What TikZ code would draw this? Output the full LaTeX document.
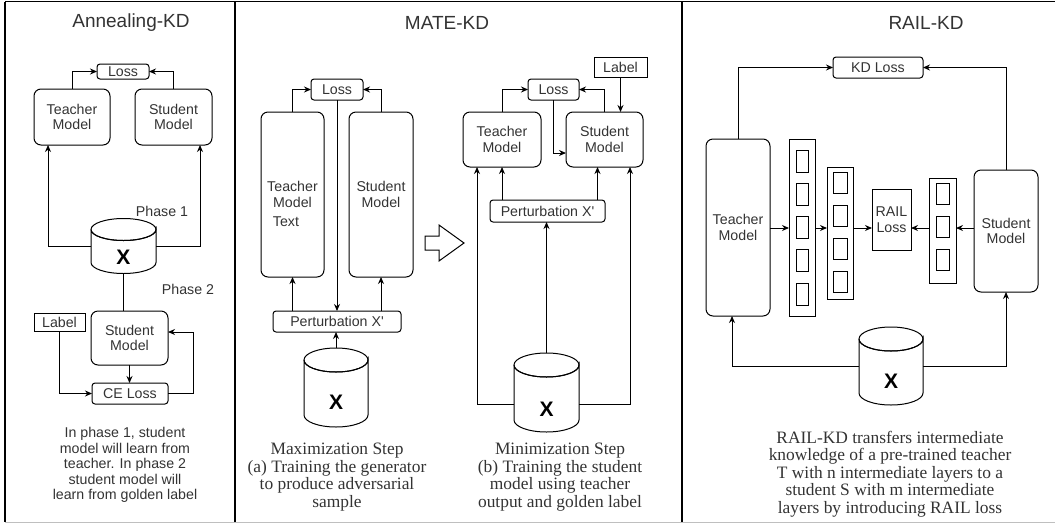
\documentclass[tikz,border=0pt]{standalone}
\usepackage{fontspec}
\setmainfont{Liberation Serif}
\newfontfamily\arial{Liberation Sans}
\usepackage{tikz}
\usetikzlibrary{arrows.meta}
\definecolor{ink}{HTML}{333333}
\tikzset{
	box/.style n args={2}{minimum width=#1,minimum height=#2},
	mdl/.style={draw,rounded corners=7pt,line width=1pt},
	lss/.style={draw,rounded corners=3pt,line width=1pt},
	lbl/.style={draw,line width=1pt},
	dbx/.style={font=\arial\bfseries\fontsize{21}{21}\selectfont,text=black},
	ttl/.style={font=\arial\fontsize{19}{21}\selectfont},
	serif/.style={font=\rmfamily\fontsize{17.4}{17.6}\selectfont},
	arr/.style={-{Stealth[length=7pt,width=6pt]},line width=1pt},
	ln/.style={line width=1pt}
}
\newcommand\dbdraw[3]{%
	\draw[line width=1pt] ([yshift=-#3]#1.north west) -- ([yshift=#3]#1.south west)
		arc[start angle=180,end angle=360,x radius=#2,y radius=#3]
		-- ([yshift=-#3]#1.north east)
		arc[start angle=0,end angle=-180,x radius=#2,y radius=#3];
	\draw[line width=1pt] ([yshift=-#3]#1.north) ellipse[x radius=#2,y radius=#3];}

\begin{document}
\begin{tikzpicture}[x=1pt,y=-1pt,
		every node/.style={inner sep=0pt,outer sep=0pt,text=ink,align=center,font=\arial\fontsize{14.2}{15.5}\selectfont}]
	\useasboundingbox (0,0) rectangle (1055,531);
	
	\draw[line width=1.6pt] (5,1.5) -- (1055,1.5);
	\draw[line width=1.6pt] (5,1.5) -- (5,522);
	\draw[line width=1.6pt] (235,1.5) -- (235,522);
	\draw[line width=1.6pt] (682,1.5) -- (682,522);
	\draw[black!25,line width=1pt] (5,522.5) -- (1055,522.5);
	
	\node[ttl] (t1) at (131,23) {Annealing-KD};
	\node[lss,box={52pt}{15pt}] (loss1) at (123,71.5) {Loss};
	\node[mdl,box={76pt}{56pt}] (teacher1) at (72,117) {Teacher\\Model};
	\node[mdl,box={77pt}{56pt}] (student1) at (173.5,117) {Student\\Model};
	\node (phase1) at (162,211) {Phase 1};
	\node[box={65pt}{55pt},label={[dbx,yshift=-11pt]center:X}] (cyl1) at (123.5,246) {};
	\dbdraw{cyl1}{32.5pt}{11pt}
	\node (phase2) at (188,289) {Phase 2};
	\node[mdl,box={77pt}{54pt}] (student2) at (129.5,338) {Student\\Model};
	\node[lbl,box={51pt}{18pt}] (label1) at (59.5,322) {Label};
	\node[lss,box={76pt}{21pt}] (celoss) at (130,393.5) {CE Loss};
	\node (note1) at (125,465) {In phase 1, student\\model will learn from\\teacher. In phase 2\\student model will\\learn from golden label};
	
	\draw[arr] (teacher1.north) |- (loss1.west);
	\draw[arr] (student1.north) |- (loss1.east);
	\draw[arr] (cyl1.west) -| ([xshift=14pt]teacher1.south west);
	\draw[arr] (cyl1.east) -| ([xshift=-12pt]student1.south east);
	\draw[ln] (cyl1.south) -- (cyl1.south |- student2.north);
	\draw[arr] (student2.south) -- (student2.south |- celoss.north);
	\draw[arr] (label1.south) |- (celoss.west);
	\draw[arr] (celoss.east) -- ++(25,0) |- ([yshift=6pt]student2.east);
	
	\node[ttl] (t2) at (447,23) {MATE-KD};
	\node[lss,box={52pt}{21pt}] (loss2) at (337,89.5) {Loss};
	\node[mdl,box={63pt}{165pt}] (teacher2) at (292.5,194.5) {Teacher\\Model};
	\node (txt) at (286,222) {Text};
	\node[mdl,box={64pt}{165pt}] (student2m) at (381,194.5) {Student\\Model};
	\node[lss,box={128pt}{21pt}] (pert1) at (337,321.5) {Perturbation X'};
	\node[box={64pt}{79pt},label={[dbx,yshift=-15pt]center:X}] (cyl2) at (336,387.5) {};
	\dbdraw{cyl2}{32pt}{12pt}
	\node[serif] (note2) at (337,477) {Maximization Step\\(a) Training the generator\\to produce adversarial\\sample};
	
	\draw[arr] (teacher2.north) |- (loss2.west);
	\draw[arr] (student2m.north) |- (loss2.east);
	\draw[arr] (loss2.south) -- (pert1.north);
	\draw[arr] (teacher2.south |- pert1.north) -- (teacher2.south);
	\draw[arr] (student2m.south |- pert1.north) -- (student2m.south);
	\draw[arr] (cyl2.north) -- (cyl2.north |- pert1.south);
	
	\draw[line width=1pt] (425,236) -- (439,236) -- (439,225) -- (464,243) -- (439,261) -- (439,250) -- (425,250) -- cycle;
	
	\node[lbl,box={53pt}{20pt}] (label2) at (620.5,67) {Label};
	\node[lss,box={51pt}{21pt}] (loss3) at (553.5,89.5) {Loss};
	\node[mdl,box={78pt}{55pt}] (teacher3) at (502,139.5) {Teacher\\Model};
	\node[mdl,box={77pt}{55pt}] (student3) at (604.5,139.5) {Student\\Model};
	\node[lss,box={115pt}{22pt}] (pert2) at (547.5,211) {Perturbation X'};
	\node[box={65pt}{79pt},label={[dbx,yshift=-17pt]center:X}] (cyl3) at (546.5,392.5) {};
	\dbdraw{cyl3}{32.5pt}{12pt}
	\node[serif] (note3) at (560,477) {Minimization Step\\(b) Training the student\\model using teacher\\output and golden label};
	
	\draw[arr] (teacher3.north) |- (loss3.west);
	\draw[arr] (student3.north) |- (loss3.east);
	\draw[arr] (label2.south) -- (label2.south |- student3.north);
	\draw[arr] (loss3.south) |- ([yshift=-13.5pt]student3.west);
	\draw[arr] (teacher3.south |- pert2.north) -- (teacher3.south);
	\draw[arr] ([xshift=-7pt]student3.south |- pert2.north) -- ([xshift=-7pt]student3.south);
	\draw[arr] (cyl3.north) -- (cyl3.north |- pert2.south);
	\draw[arr] ([yshift=-11.5pt]cyl3.west) -| ([xshift=14pt]teacher3.south west);
	\draw[arr] ([yshift=-11.5pt]cyl3.east) -| ([xshift=-13pt]student3.south east);
	
	\node[ttl] (t3) at (926,23) {RAIL-KD};
	\node[lss,box={90pt}{21pt}] (kdloss) at (878,67.5) {KD Loss};
	\node[mdl,box={64pt}{177pt}] (teacher4) at (738,227.5) {Teacher\\Model};
	\node[mdl,box={64pt}{122pt}] (student4) at (1006,231) {Student\\Model};
	\node[lbl,box={26pt}{177pt}] (col1) at (802,227.5) {};
	\node[lbl,box={26pt}{132pt}] (col2) at (840,233) {};
	\node[lbl,box={39pt}{61pt}] (rail) at (891.5,219.5) {RAIL\\Loss};
	\node[lbl,box={27pt}{105pt}] (col3) at (942.5,230.5) {};
	\foreach \i in {0,...,4} \node[lbl,box={12pt}{22pt}] (c1-\i) at (802,161+33.25*\i) {};
	\foreach \i in {0,...,3} \node[lbl,box={14pt}{21pt}] (c2-\i) at (840,182.5+33.3*\i) {};
	\foreach \i in {0,...,2} \node[lbl,box={13pt}{21pt}] (c3-\i) at (942.5,193.5+33.2*\i) {};
	\node[box={64pt}{78pt},label={[dbx,yshift=-15pt]center:X}] (cyl4) at (891,366) {};
	\dbdraw{cyl4}{32pt}{12pt}
	\node[serif] (note4) at (890,474) {RAIL-KD transfers intermediate\\knowledge of a pre-trained teacher\\T with n intermediate layers to a\\student S with m intermediate\\layers by introducing RAIL loss};
	
	\coordinate (row) at (0,228);
	\draw[arr] (teacher4.north) |- (kdloss.west);
	\draw[arr] (student4.north) |- (kdloss.east);
	\draw[arr] (teacher4.east |- row) -- (col1.west |- row);
	\draw[arr] (col1.east |- row) -- (col2.west |- row);
	\draw[arr] (col2.east |- row) -- (rail.west |- row);
	\draw[arr] (col3.west |- row) -- (rail.east |- row);
	\draw[arr] (student4.west |- row) -- (col3.east |- row);
	\draw[arr] (cyl4.west) -| ([xshift=-6pt]teacher4.south);
	\draw[arr] (cyl4.east) -| (student4.south);
\end{tikzpicture}
\end{document}
